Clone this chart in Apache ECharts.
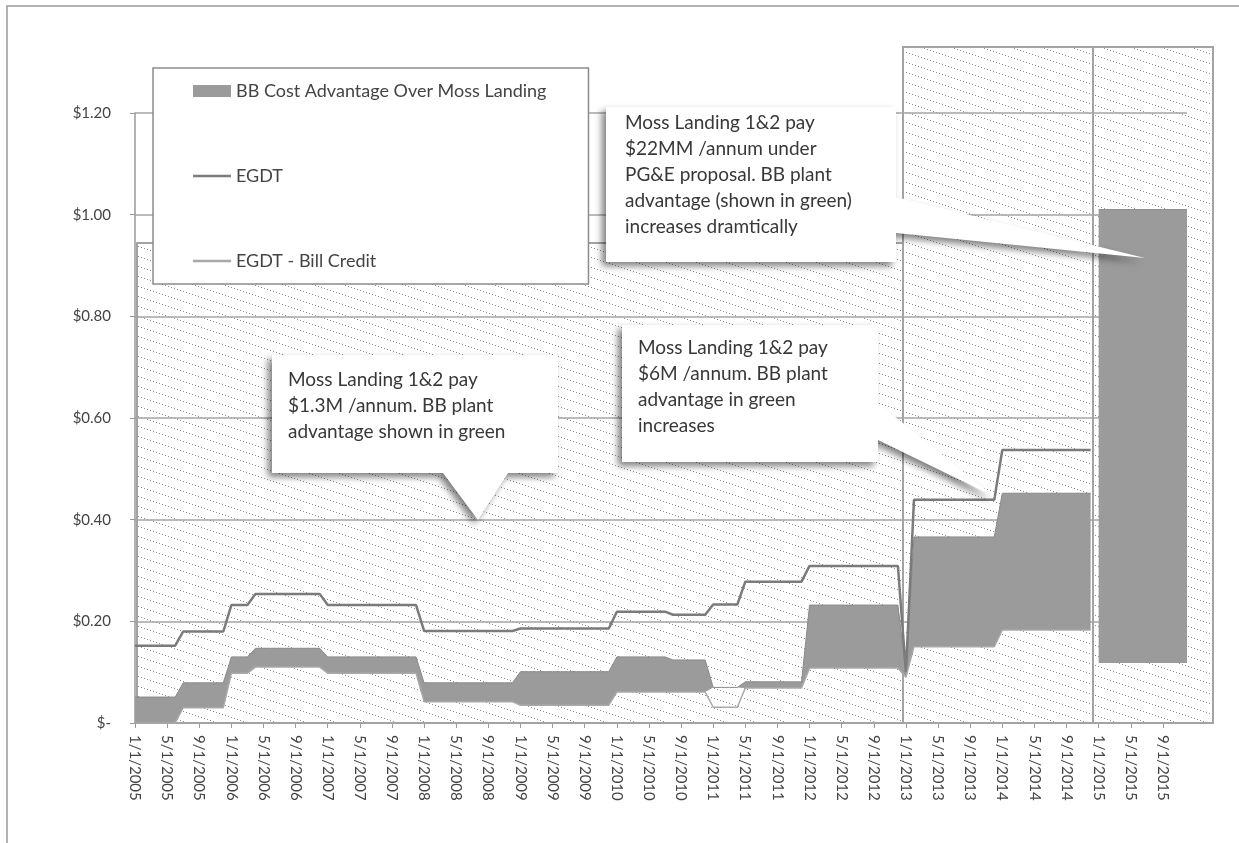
<!DOCTYPE html>
<html>
<head>
<meta charset="utf-8">
<title>BB Cost Advantage Over Moss Landing</title>
<script src="https://cdn.jsdelivr.net/npm/echarts@6/dist/echarts.min.js"></script>
<style>
  html, body { margin: 0; padding: 0; background: #fff; }
  #chart { width: 1239px; height: 843px; }
</style>
</head>
<body>
<div id="chart"></div>
<script>
// monthly categories 1/1/2005 .. 12/1/2015
const months = [];
for (let y = 2005; y <= 2015; y++) {
  for (let m = 1; m <= 12; m++) months.push(m + '/1/' + y);
}

const yTicks = [0, 0.2, 0.4, 0.6, 0.8, 1.0, 1.2];

// EGDT ($), one row per year
const egdt = [
  0.152, 0.152, 0.152, 0.152, 0.152, 0.152, 0.180, 0.180, 0.180, 0.180, 0.180, 0.180,
  0.232, 0.232, 0.232, 0.254, 0.254, 0.254, 0.254, 0.254, 0.254, 0.254, 0.254, 0.254,
  0.232, 0.232, 0.232, 0.232, 0.232, 0.232, 0.232, 0.232, 0.232, 0.232, 0.232, 0.232,
  0.181, 0.181, 0.181, 0.181, 0.181, 0.181, 0.181, 0.181, 0.181, 0.181, 0.181, 0.181,
  0.186, 0.186, 0.186, 0.186, 0.186, 0.186, 0.186, 0.186, 0.186, 0.186, 0.186, 0.186,
  0.219, 0.219, 0.219, 0.219, 0.219, 0.219, 0.219, 0.213, 0.213, 0.213, 0.213, 0.213,
  0.233, 0.233, 0.233, 0.233, 0.278, 0.278, 0.278, 0.278, 0.278, 0.278, 0.278, 0.278,
  0.309, 0.309, 0.309, 0.309, 0.309, 0.309, 0.309, 0.309, 0.309, 0.309, 0.309, 0.309,
  0.100, 0.439, 0.439, 0.439, 0.439, 0.439, 0.439, 0.439, 0.439, 0.439, 0.439, 0.439,
  0.537, 0.537, 0.537, 0.537, 0.537, 0.537, 0.537, 0.537, 0.537, 0.537, 0.537, 0.537,
  null, null, null, null, null, null, null, null, null, null, null, null
];

// EGDT - Bill Credit ($)
const billCredit = [
  0.000, 0.000, 0.000, 0.000, 0.000, 0.000, 0.030, 0.030, 0.030, 0.030, 0.030, 0.030,
  0.098, 0.098, 0.098, 0.110, 0.110, 0.110, 0.110, 0.110, 0.110, 0.110, 0.110, 0.110,
  0.098, 0.098, 0.098, 0.098, 0.098, 0.098, 0.098, 0.098, 0.098, 0.098, 0.098, 0.098,
  0.042, 0.042, 0.042, 0.042, 0.042, 0.042, 0.042, 0.042, 0.042, 0.042, 0.042, 0.042,
  0.035, 0.035, 0.035, 0.035, 0.035, 0.035, 0.035, 0.035, 0.035, 0.035, 0.035, 0.035,
  0.061, 0.061, 0.061, 0.061, 0.061, 0.061, 0.061, 0.061, 0.061, 0.061, 0.061, 0.061,
  0.031, 0.031, 0.031, 0.031, 0.069, 0.069, 0.069, 0.069, 0.069, 0.069, 0.069, 0.069,
  0.108, 0.108, 0.108, 0.108, 0.108, 0.108, 0.108, 0.108, 0.108, 0.108, 0.108, 0.108,
  0.090, 0.150, 0.150, 0.150, 0.150, 0.150, 0.150, 0.150, 0.150, 0.150, 0.150, 0.150,
  0.183, 0.183, 0.183, 0.183, 0.183, 0.183, 0.183, 0.183, 0.183, 0.183, 0.183, 0.183,
  null, null, null, null, null, null, null, null, null, null, null, null
];

// BB cost advantage band: lower and upper edge ($)
const advLow = [
  0.000, 0.000, 0.000, 0.000, 0.000, 0.000, 0.030, 0.030, 0.030, 0.030, 0.030, 0.030,
  0.098, 0.098, 0.098, 0.110, 0.110, 0.110, 0.110, 0.110, 0.110, 0.110, 0.110, 0.110,
  0.098, 0.098, 0.098, 0.098, 0.098, 0.098, 0.098, 0.098, 0.098, 0.098, 0.098, 0.098,
  0.042, 0.042, 0.042, 0.042, 0.042, 0.042, 0.042, 0.042, 0.042, 0.042, 0.042, 0.042,
  0.035, 0.035, 0.035, 0.035, 0.035, 0.035, 0.035, 0.035, 0.035, 0.035, 0.035, 0.035,
  0.061, 0.061, 0.061, 0.061, 0.061, 0.061, 0.061, 0.061, 0.061, 0.061, 0.061, 0.061,
  0.070, 0.070, 0.070, 0.070, 0.069, 0.069, 0.069, 0.069, 0.069, 0.069, 0.069, 0.069,
  0.108, 0.108, 0.108, 0.108, 0.108, 0.108, 0.108, 0.108, 0.108, 0.108, 0.108, 0.108,
  0.090, 0.150, 0.150, 0.150, 0.150, 0.150, 0.150, 0.150, 0.150, 0.150, 0.150, 0.150,
  0.183, 0.183, 0.183, 0.183, 0.183, 0.183, 0.183, 0.183, 0.183, 0.183, 0.183, 0.183,
  0.118, 0.118, 0.118, 0.118, 0.118, 0.118, 0.118, 0.118, 0.118, 0.118, 0.118, 0.118
];
const advHigh = [
  0.051, 0.051, 0.051, 0.051, 0.051, 0.051, 0.079, 0.079, 0.079, 0.079, 0.079, 0.079,
  0.130, 0.130, 0.130, 0.147, 0.147, 0.147, 0.147, 0.147, 0.147, 0.147, 0.147, 0.147,
  0.130, 0.130, 0.130, 0.130, 0.130, 0.130, 0.130, 0.130, 0.130, 0.130, 0.130, 0.130,
  0.079, 0.079, 0.079, 0.079, 0.079, 0.079, 0.079, 0.079, 0.079, 0.079, 0.079, 0.079,
  0.101, 0.101, 0.101, 0.101, 0.101, 0.101, 0.101, 0.101, 0.101, 0.101, 0.101, 0.101,
  0.130, 0.130, 0.130, 0.130, 0.130, 0.130, 0.130, 0.124, 0.124, 0.124, 0.124, 0.124,
  0.070, 0.070, 0.070, 0.070, 0.081, 0.081, 0.081, 0.081, 0.081, 0.081, 0.081, 0.081,
  0.232, 0.232, 0.232, 0.232, 0.232, 0.232, 0.232, 0.232, 0.232, 0.232, 0.232, 0.232,
  0.100, 0.366, 0.366, 0.366, 0.366, 0.366, 0.366, 0.366, 0.366, 0.366, 0.366, 0.366,
  0.452, 0.452, 0.452, 0.452, 0.452, 0.452, 0.452, 0.452, 0.452, 0.452, 0.452, 0.452,
  1.010, 1.010, 1.010, 1.010, 1.010, 1.010, 1.010, 1.010, 1.010, 1.010, 1.010, 1.010
];

const ADV = 'BB Cost Advantage Over Moss Landing';
const BAND = '#9b9b9b';
const EGDT_C = '#7b7b7b';
const BILL_C = '#a9a9a9';
const FONT = 'Lato';
const SPLIT = 120; // first month of the PG&E proposal block (1/1/2015)
const LINE_ICON = 'path://M0,0 L38,0 L38,2.5 L0,2.5 Z';

// band drawn as invisible base + thickness, split in two blocks
const base1 = advLow.map((v, i) => i < SPLIT ? v : null);
const band1 = advHigh.map((v, i) => i < SPLIT ? +(v - advLow[i]).toFixed(3) : null);
const base2 = advLow.map((v, i) => i >= SPLIT ? v : null);
const band2 = advHigh.map((v, i) => i >= SPLIT ? +(v - advLow[i]).toFixed(3) : null);

// dotted diagonal fill of the highlight boxes
function hatch() {
  const c = document.createElement('canvas');
  c.width = 30; c.height = 10;
  const g = c.getContext('2d');
  g.fillStyle = '#ffffff';
  g.fillRect(0, 0, 30, 10);
  g.fillStyle = '#8f8f8f';
  for (let x = 0; x < 30; x += 3) g.fillRect(x, Math.floor(x / 3), 1, 1);
  return c;
}
const hatchFill = { image: hatch(), repeat: 'repeat' };

function box(x, y, w, h) {
  return [
    { type: 'rect', z: -1, shape: { x: x, y: y, width: w, height: h },
      style: { fill: hatchFill, stroke: null } },
    { type: 'rect', z: 3, shape: { x: x, y: y, width: w, height: h },
      style: { fill: null, stroke: '#a3a3a3', lineWidth: 2 } }
  ];
}

function callout(points, tx, ty, text) {
  return [
    { type: 'polygon', z: 10, shape: { points: points },
      style: { fill: '#ffffff', stroke: null, shadowBlur: 7, shadowOffsetX: -4, shadowOffsetY: 4,
               shadowColor: 'rgba(0,0,0,0.5)' } },
    { type: 'text', z: 11, x: tx, y: ty,
      style: { text: text, font: '19px ' + FONT, lineHeight: 26, fill: '#383838', verticalAlign: 'top' } }
  ];
}

const chart = echarts.init(document.getElementById('chart'));

chart.setOption({
  animation: false,
  backgroundColor: '#ffffff',
  grid: { left: 135, right: 52, top: 113, bottom: 120, containLabel: false, outerBoundsMode: 'none' },
  legend: {
    orient: 'vertical', left: 153, top: 68,
    data: [
      { name: ADV, icon: 'rect', itemStyle: { color: BAND } },
      { name: 'EGDT', icon: LINE_ICON, itemStyle: { color: EGDT_C } },
      { name: 'EGDT - Bill Credit', icon: LINE_ICON, itemStyle: { color: BILL_C } }
    ],
    itemWidth: 38, itemHeight: 12, itemGap: 67,
    padding: [14, 42, 14, 40],
    backgroundColor: '#ffffff', borderColor: '#8c8c8c', borderWidth: 1.5,
    textStyle: { fontFamily: FONT, fontSize: 18, color: '#444' },
    selectedMode: false
  },
  xAxis: {
    type: 'category', data: months, boundaryGap: false,
    axisLine: { lineStyle: { color: '#9a9a9a', width: 1.5 } },
    axisTick: { interval: 3, length: 5, lineStyle: { color: '#9a9a9a' } },
    axisLabel: { interval: 3, rotate: -90, margin: 12, fontFamily: FONT, fontSize: 15, color: '#444' },
    splitLine: { show: false }
  },
  yAxis: {
    type: 'value', min: yTicks[0], max: yTicks[yTicks.length - 1], interval: 0.2,
    axisLine: { show: true, lineStyle: { color: '#9a9a9a', width: 1.5 } },
    axisTick: { show: true, length: 5, lineStyle: { color: '#9a9a9a' } },
    axisLabel: {
      margin: 24, fontFamily: FONT, fontSize: 15, color: '#444',
      formatter: v => v === 0 ? '$-' : '$' + v.toFixed(2)
    },
    splitLine: { lineStyle: { color: '#a5a5a5', width: 1.5 } }
  },
  series: [
    { name: 'base1', type: 'line', stack: 'adv1', data: base1, symbol: 'none', silent: true,
      lineStyle: { opacity: 0 } },
    { name: ADV, type: 'line', stack: 'adv1', data: band1, symbol: 'none',
      lineStyle: { color: '#8a8a8a', width: 1 }, itemStyle: { color: BAND },
      areaStyle: { color: BAND, opacity: 1 } },
    { name: 'base2', type: 'line', stack: 'adv2', data: base2, symbol: 'none', silent: true,
      lineStyle: { opacity: 0 } },
    { name: ADV, type: 'line', stack: 'adv2', data: band2, symbol: 'none',
      lineStyle: { color: '#8a8a8a', width: 1 }, itemStyle: { color: BAND },
      areaStyle: { color: BAND, opacity: 1 } },
    { name: 'EGDT', type: 'line', data: egdt, symbol: 'none',
      lineStyle: { color: EGDT_C, width: 2.5 }, itemStyle: { color: EGDT_C } },
    { name: 'EGDT - Bill Credit', type: 'line', data: billCredit, symbol: 'none',
      lineStyle: { color: BILL_C, width: 1.5 }, itemStyle: { color: BILL_C } }
  ],
  graphic: [
    { type: 'rect', z: -2, shape: { x: 7, y: 6, width: 1300, height: 900 },
      style: { fill: null, stroke: '#9a9a9a', lineWidth: 1.5 } }
  ].concat(
    box(137, 243, 766, 480),
    box(903, 47, 190, 676),
    box(1093, 47, 120, 676),
    callout([[272, 355], [558, 355], [558, 473], [508, 473], [478, 520], [443, 473], [272, 473]],
      288, 367, 'Moss Landing 1&2 pay\n$1.3M /annum. BB plant\nadvantage shown in green'),
    callout([[622, 325], [878, 325], [878, 403], [995, 497], [878, 440], [878, 462], [622, 462]],
      638, 335, 'Moss Landing 1&2 pay\n$6M /annum. BB plant\nadvantage in green\nincreases'),
    callout([[606, 107], [896, 107], [896, 197], [1145, 258], [896, 233], [896, 262], [606, 262]],
      625, 110, 'Moss Landing 1&2 pay\n$22MM /annum under\nPG&E proposal. BB plant\nadvantage (shown in green)\nincreases dramtically')
  )
});
</script>
</body>
</html>
